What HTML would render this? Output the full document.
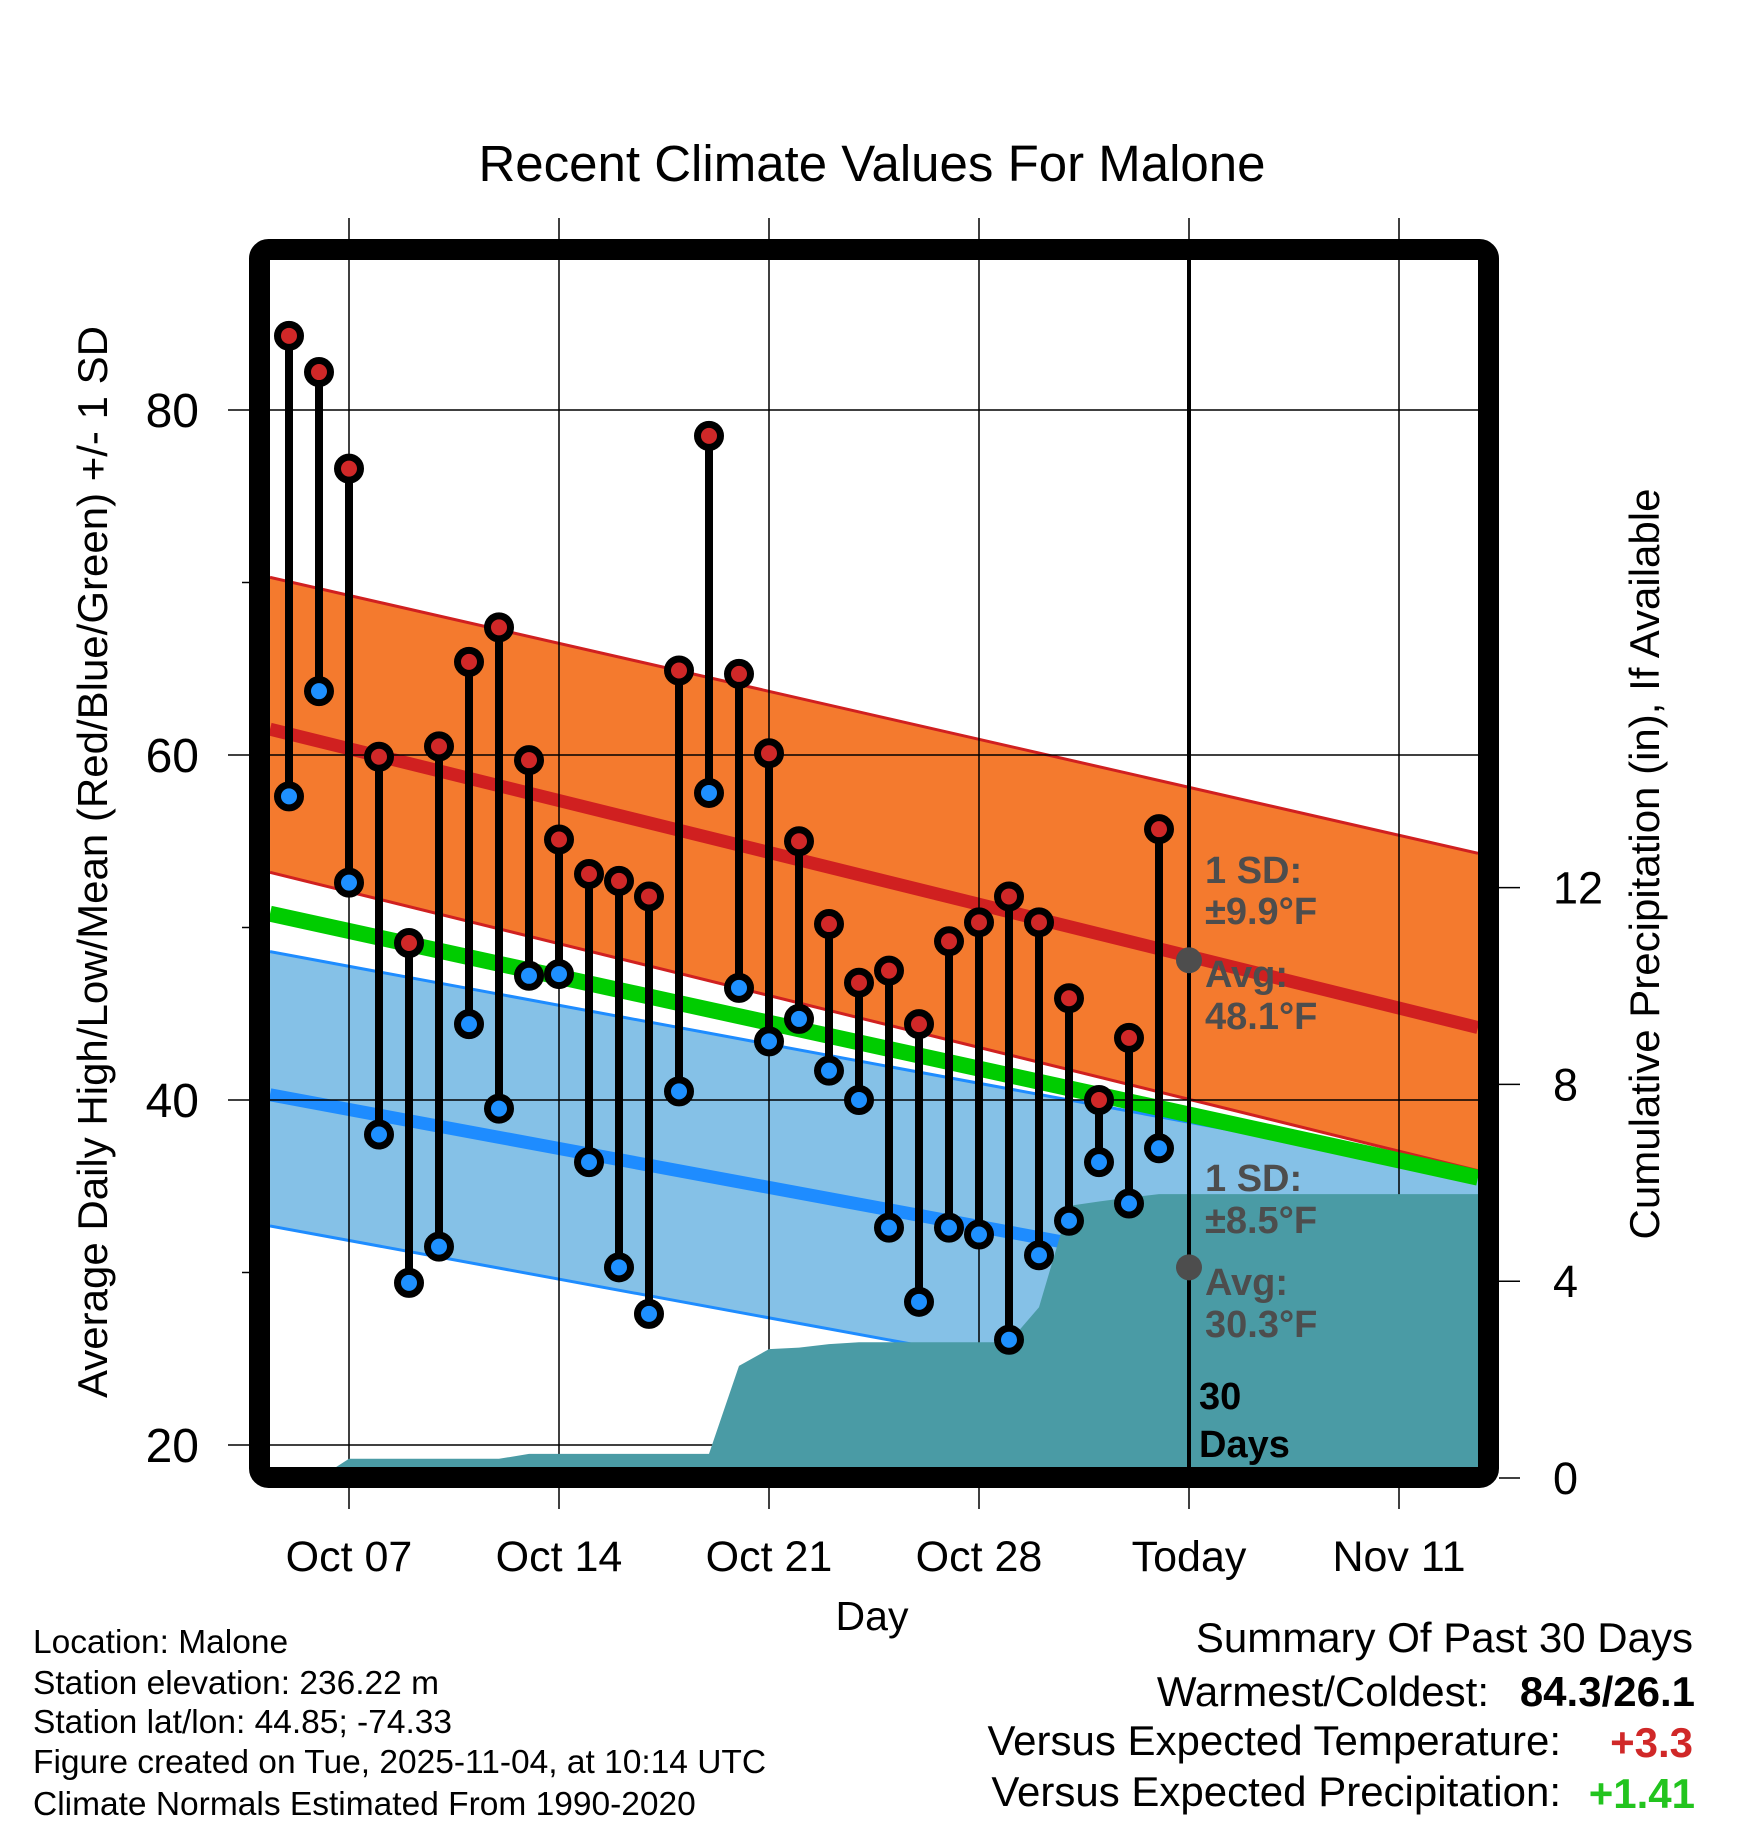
<!DOCTYPE html>
<html><head><meta charset="utf-8"><style>
html,body{margin:0;padding:0;background:#fff;}
svg{display:block;font-family:"Liberation Sans",Arial,sans-serif;}
</style></head><body>
<svg id="chart" width="1748" height="1828" viewBox="0 0 1748 1828" xmlns="http://www.w3.org/2000/svg">
<defs><clipPath id="plotclip"><rect x="270" y="260" width="1208" height="1208"/></clipPath></defs>
<rect width="1748" height="1828" fill="#fff"/>
<text x="872" y="181" font-size="51" text-anchor="middle">Recent Climate Values For Malone</text>
<g id="bands" clip-path="url(#plotclip)"></g>
<g id="grid"></g>
<g id="precip" clip-path="url(#plotclip)"></g>
<g id="today"></g>
<g id="data"></g>
<rect x="259.5" y="249.5" width="1229" height="1228" rx="9" fill="none" stroke="#000" stroke-width="21"/>
<g id="axes"></g>
<g fill="#4d4d4d" font-weight="bold" font-size="38">
<text x="1205" y="883">1 SD:</text>
<text x="1205" y="924">±9.9°F</text>
<text x="1205" y="987">Avg:</text>
<text x="1205" y="1029">48.1°F</text>
<text x="1205" y="1191">1 SD:</text>
<text x="1205" y="1233">±8.5°F</text>
<text x="1205" y="1295">Avg:</text>
<text x="1205" y="1337">30.3°F</text>
<text x="1199" y="1409" fill="#000">30</text>
<text x="1199" y="1457" fill="#000">Days</text>
</g>
<text x="872" y="1630" font-size="41" text-anchor="middle">Day</text>
<text transform="translate(107,862) rotate(-90)" font-size="42" text-anchor="middle">Average Daily High/Low/Mean (Red/Blue/Green) +/- 1 SD</text>
<text transform="translate(1659,864) rotate(-90)" font-size="42" text-anchor="middle">Cumulative Precipitation (in), If Available</text>
<g font-size="33.5">
<text x="33" y="1653">Location: Malone</text>
<text x="33" y="1694">Station elevation: 236.22 m</text>
<text x="33" y="1733">Station lat/lon: 44.85; -74.33</text>
<text x="33" y="1773">Figure created on Tue, 2025-11-04, at 10:14 UTC</text>
<text x="33" y="1815">Climate Normals Estimated From 1990-2020</text>
</g>
<g font-size="42" text-anchor="end">
<text x="1693" y="1652">Summary Of Past 30 Days</text>
<text x="1489" y="1706">Warmest/Coldest:</text>
<text x="1695" y="1706" font-weight="bold">84.3/26.1</text>
<text x="1561" y="1755">Versus Expected Temperature:</text>
<text x="1693" y="1757" font-weight="bold" fill="#d02828">+3.3</text>
<text x="1561" y="1806">Versus Expected Precipitation:</text>
<text x="1695" y="1808" font-weight="bold" fill="#22c41e">+1.41</text>
</g>
</svg>
<script>
// ---- data ----
const dayLabels = ["Oct 05","Oct 06","Oct 07","Oct 08","Oct 09","Oct 10","Oct 11","Oct 12","Oct 13","Oct 14","Oct 15","Oct 16","Oct 17","Oct 18","Oct 19","Oct 20","Oct 21","Oct 22","Oct 23","Oct 24","Oct 25","Oct 26","Oct 27","Oct 28","Oct 29","Oct 30","Oct 31","Nov 01","Nov 02","Nov 03"];
const highs = [84.3,82.2,76.6,59.9,49.1,60.5,65.4,67.4,59.7,55.1,53.1,52.7,51.8,64.9,78.5,64.7,60.1,55.0,50.2,46.8,47.5,44.4,49.2,50.3,51.8,50.3,45.9,40.0,43.6,55.7];
const lows = [57.6,63.7,52.6,38.0,29.4,31.5,44.4,39.5,47.2,47.3,36.4,30.3,27.6,40.5,57.8,46.5,43.4,44.7,41.7,40.0,32.6,28.3,32.6,32.2,26.1,31.0,33.0,36.4,34.0,37.2];
const precipCum = [0,0,0.39,0.39,0.39,0.39,0.39,0.39,0.49,0.49,0.49,0.49,0.49,0.49,0.49,2.28,2.62,2.65,2.72,2.76,2.76,2.76,2.76,2.76,2.76,3.47,5.53,5.62,5.70,5.77,5.77];
const normDays = [-2.633, 37.633];
const redUpper = [70.3, 54.3];
const redMean = [61.5, 44.2];
const redLower = [53.2, 35.9];
const greenMean = [50.8, 35.5];
const blueUpper = [48.6, 35.6];
const blueMean = [40.3, 27.3];
const blueLower = [32.7, 19.8];
const todayDay = 28;
const todayHighAvg = 48.1;
const todayLowAvg = 30.3;
const xTickDays = [0,7,14,21,28,35];
const xTickLabels = ["Oct 07","Oct 14","Oct 21","Oct 28","Today","Nov 11"];
const yTicks = [80,60,40,20];
const yMinor = [70,50,30];
const y2Ticks = [0,4,8,12];

// ---- scales ----
const firstDay = -2; // Oct 05 relative to Oct 07
function xDay(d){ return 349 + 30*d; }
function yT(t){ return 410 + (80 - t)*17.25; }
function yP(p){ return 1478 - p*49.2; }
const NS = "http://www.w3.org/2000/svg";
function mk(tag, attrs, parent){ const e=document.createElementNS(NS,tag); for(const k in attrs) e.setAttribute(k,attrs[k]); parent.appendChild(e); return e; }

const bands = document.getElementById('bands');
function bandPoly(up, lo, fill, name){
  const pts = [[xDay(normDays[0]),yT(up[0])],[xDay(normDays[1]),yT(up[1])],[xDay(normDays[1]),yT(lo[1])],[xDay(normDays[0]),yT(lo[0])]];
  const p = mk('polygon',{points:pts.map(q=>q.join(',')).join(' '),fill:fill},bands);
  
  
}
function nline(vals, color, w, name){
  const l = mk('line',{x1:xDay(normDays[0]),y1:yT(vals[0]),x2:xDay(normDays[1]),y2:yT(vals[1]),stroke:color,'stroke-width':w},bands);
  
  
}
bandPoly(redUpper, redLower, '#f47a2e', 'high-sd-band');
nline(redUpper,'#d02020',3,'high-upper-line');
nline(redLower,'#d02020',3,'high-lower-line');
nline(redMean,'#d02020',13,'high-mean-line');
bandPoly(blueUpper, blueLower, '#85c1e7', 'low-sd-band');
nline(blueUpper,'#1e8cff',3,'low-upper-line');
nline(blueLower,'#1e8cff',3,'low-lower-line');
nline(blueMean,'#1e8cff',13,'low-mean-line');
nline(greenMean,'#00cc00',16,'mean-line');

// grid
const grid = document.getElementById('grid');
xTickDays.forEach((d,i)=>{
  const l = mk('line',{x1:xDay(d),y1:218,x2:xDay(d),y2:1509,stroke:'#000','stroke-width':1.5},grid);
  
  
});
yTicks.forEach(t=>{
  const l = mk('line',{x1:228,y1:yT(t),x2:1478,y2:yT(t),stroke:'#000','stroke-width':1.5},grid);
  
  
});

// precipitation
const precip = document.getElementById('precip');
let pts = [];
precipCum.forEach((p,i)=>{ pts.push([xDay(firstDay+i), yP(p)]); });
pts.push([1480, yP(precipCum[precipCum.length-1])]);
pts.push([1480, 1480]);
pts.push([xDay(firstDay), 1480]);
const pp = mk('polygon',{points:pts.map(q=>q.join(',')).join(' '),fill:'#4a9ba5'},precip);



// today line & avg dots
const today = document.getElementById('today');
const tl = mk('line',{x1:xDay(todayDay),y1:255,x2:xDay(todayDay),y2:1470,stroke:'#000','stroke-width':4},today);


[todayHighAvg,todayLowAvg].forEach(v=>{
  const c = mk('circle',{cx:xDay(todayDay),cy:yT(v),r:13,fill:'#4d4d4d'},today);
  
  
});

// daily data
const dataG = document.getElementById('data');
highs.forEach((h,i)=>{
  const x = xDay(firstDay+i);
  const s = mk('line',{x1:x,y1:yT(h),x2:x,y2:yT(lows[i]),stroke:'#000','stroke-width':8},dataG);
  
  
});
highs.forEach((h,i)=>{
  const x = xDay(firstDay+i);
  const ch = mk('circle',{cx:x,cy:yT(h),r:11.5,fill:'#d02828',stroke:'#000','stroke-width':7},dataG);
  
  
  const cl = mk('circle',{cx:x,cy:yT(lows[i]),r:11.5,fill:'#1e90ff',stroke:'#000','stroke-width':7},dataG);
  
  
});

// axes labels
const axes = document.getElementById('axes');
xTickDays.forEach((d,i)=>{
  const t = mk('text',{x:xDay(d),y:1571,'font-size':43,'text-anchor':'middle'},axes);
  t.textContent = xTickLabels[i];
  
  
});
yTicks.forEach(v=>{
  const t = mk('text',{x:199,y:yT(v)+17,'font-size':48,'text-anchor':'end'},axes);
  t.textContent = v;
  
  
});
yMinor.forEach(v=>{
  const l = mk('line',{x1:242,y1:yT(v),x2:250,y2:yT(v),stroke:'#000','stroke-width':1.5},axes);
  
  
});
y2Ticks.forEach(v=>{
  const l = mk('line',{x1:1499,y1:yP(v),x2:1520,y2:yP(v),stroke:'#000','stroke-width':1.5},axes);
  
  
  const t = mk('text',{x:1553,y:yP(v)+16,'font-size':45},axes);
  t.textContent = v;
  
  
});
</script>
</body></html>
